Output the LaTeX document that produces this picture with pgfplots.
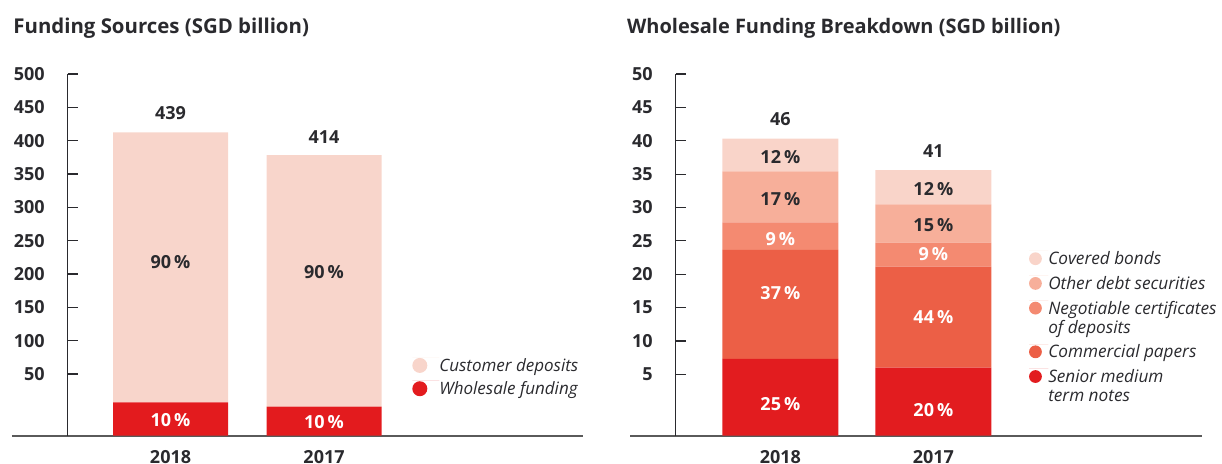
\documentclass[border=0pt]{standalone}
\usepackage{fontspec}
\setmainfont{Open Sans}
\usepackage{pgfplots}
\pgfplotsset{compat=1.18}
\definecolor{cdep}{HTML}{F8D5CB}
\definecolor{whf}{HTML}{E31B1E}
\definecolor{cov}{HTML}{F9D4C9}
\definecolor{oth}{HTML}{F7AF9A}
\definecolor{ncd}{HTML}{F48A71}
\definecolor{cpp}{HTML}{EC5F46}
\definecolor{smt}{HTML}{E21C1F}
\definecolor{txt}{HTML}{2A2A2E}
\definecolor{axl}{HTML}{5A5A5A}
\newcommand{\lbl}{\bfseries\fontsize{9}{10}\selectfont}
\pgfplotsset{
  common/.style={
    scale only axis,
    height=180.85pt,
    ybar stacked,
    axis x line*=bottom,
    axis y line*=left,
    axis line style={-},
    y axis line style={txt, line width=0.6pt},
    tick align=inside,
    major tick length=5pt,
    ytick style={txt, line width=0.6pt},
    xtick style={draw=none},
    xtick={0,1},
    xticklabels={2018,2017},
    /pgf/number format/assume math mode=true,
    tick label style={font=\lbl, text=txt},
    yticklabel style={anchor=east, xshift=-8pt},
    xticklabel style={anchor=north, yshift=-4pt},
    clip=false,
    reverse legend,
    legend style={draw=none, fill=none, inner sep=0pt, text=txt,
      nodes={anchor=north west, align=left, inner sep=0pt}},
  }
}
\begin{document}
\begin{tikzpicture}
\path[use as bounding box] (0,0) rectangle (611pt,231.5pt);
\node[anchor=base west, inner sep=0pt, text=txt, font=\bfseries\fontsize{10.2}{12}\selectfont] at (6.5pt,215pt) {Funding Sources (SGD billion)};
\node[anchor=base west, inner sep=0pt, text=txt, font=\bfseries\fontsize{10}{12}\selectfont] at (313.35pt,215pt) {Wholesale Funding Breakdown (SGD billion)};

% Left chart
\begin{axis}[common,
  at={(33.85pt,13.65pt)}, anchor=south west,
  width=257.65pt,
  xmin=-0.670, xmax=2.687,
  ymin=0, ymax=542.5,
  ytick={92.5,142.5,192.5,242.5,292.5,342.5,392.5,442.5,492.5,542.5},
  yticklabels={50,100,150,200,250,300,350,400,450,500},
  bar width=57.5pt,
  x axis line style={axl, line width=0.9pt, shorten <=-27.85pt},
  legend image code/.code={\fill[#1,draw=none] (3.75pt,-3.9pt) circle (3.75pt); \path (0,0) -- (13.5pt,0);},
  legend style={at={(0.668,0.217)}, anchor=north west, row sep=3.3pt,
    font=\itshape\fontsize{8.5}{9.5}\selectfont},
]
\addplot[fill=whf, draw=none] coordinates {(0,50) (1,43.5)};
\addlegendentry{\strut Wholesale funding}
\addplot[fill=cdep, draw=none] coordinates {(0,405) (1,377.5)};
\addlegendentry{\strut Customer deposits}
\coordinate (A1) at (axis cs:0,484);
\coordinate (A2) at (axis cs:1,448);
\coordinate (A3) at (axis cs:0,260.9);
\coordinate (A4) at (axis cs:1,245.9);
\coordinate (A5) at (axis cs:0,23.5);
\coordinate (A6) at (axis cs:1,20.5);
\end{axis}
\node[font=\lbl, text=txt] at (A1) {439};
\node[font=\lbl, text=txt] at (A2) {414};
\node[font=\lbl, text=txt] at (A3) {90\,\%};
\node[font=\lbl, text=txt] at (A4) {90\,\%};
\node[font=\lbl, text=white] at (A5) {10\,\%};
\node[font=\lbl, text=white] at (A6) {10\,\%};

% Right chart
\begin{axis}[common,
  at={(337.85pt,13.65pt)}, anchor=south west,
  width=263pt,
  xmin=-0.684, xmax=2.754,
  ymin=0, ymax=54.2,
  ytick={9.2,14.2,19.2,24.2,29.2,34.2,39.2,44.2,49.2,54.2},
  yticklabels={5,10,15,20,25,30,35,40,45,50},
  bar width=58pt,
  x axis line style={axl, line width=0.9pt, shorten <=-22.85pt},
  legend image code/.code={\fill[#1,draw=none] (3.2pt,-3.9pt) circle (3.2pt); \path (0,0) -- (9.6pt,0);},
  legend style={at={(0.671,0.512)}, anchor=north west, row sep=4pt,
    font=\itshape\fontsize{8.6}{9.5}\selectfont},
]
\addplot[fill=smt, draw=none] coordinates {(0,11.5) (1,10.2)};
\addlegendentry{\strut Senior medium\\\strut term notes}
\addplot[fill=cpp, draw=none] coordinates {(0,16.35) (1,15.15)};
\addlegendentry{\strut Commercial papers}
\addplot[fill=ncd, draw=none] coordinates {(0,4.1) (1,3.6)};
\addlegendentry{\strut Negotiable certificates\\\strut of deposits}
\addplot[fill=oth, draw=none] coordinates {(0,7.65) (1,5.7)};
\addlegendentry{\strut Other debt securities}
\addplot[fill=cov, draw=none] coordinates {(0,4.9) (1,5.15)};
\addlegendentry{\strut Covered bonds}
\coordinate (B1) at (axis cs:0,47.45);
\coordinate (B2) at (axis cs:1,42.6);
\coordinate (B3) at (axis cs:0,41.7);
\coordinate (B4) at (axis cs:0,35.46);
\coordinate (B5) at (axis cs:0,29.4);
\coordinate (B6) at (axis cs:0,21.35);
\coordinate (B7) at (axis cs:0,4.75);
\coordinate (B8) at (axis cs:1,36.96);
\coordinate (B9) at (axis cs:1,31.6);
\coordinate (B10) at (axis cs:1,27.2);
\coordinate (B11) at (axis cs:1,17.75);
\coordinate (B12) at (axis cs:1,3.85);
\end{axis}
\node[font=\lbl, text=txt] at (B1) {46};
\node[font=\lbl, text=txt] at (B2) {41};
\node[font=\lbl, text=txt] at (B3) {12\,\%};
\node[font=\lbl, text=txt] at (B4) {17\,\%};
\node[font=\lbl, text=white] at (B5) {9\,\%};
\node[font=\lbl, text=white] at (B6) {37\,\%};
\node[font=\lbl, text=white] at (B7) {25\,\%};
\node[font=\lbl, text=txt] at (B8) {12\,\%};
\node[font=\lbl, text=txt] at (B9) {15\,\%};
\node[font=\lbl, text=white] at (B10) {9\,\%};
\node[font=\lbl, text=white] at (B11) {44\,\%};
\node[font=\lbl, text=white] at (B12) {20\,\%};
\end{tikzpicture}
\end{document}
